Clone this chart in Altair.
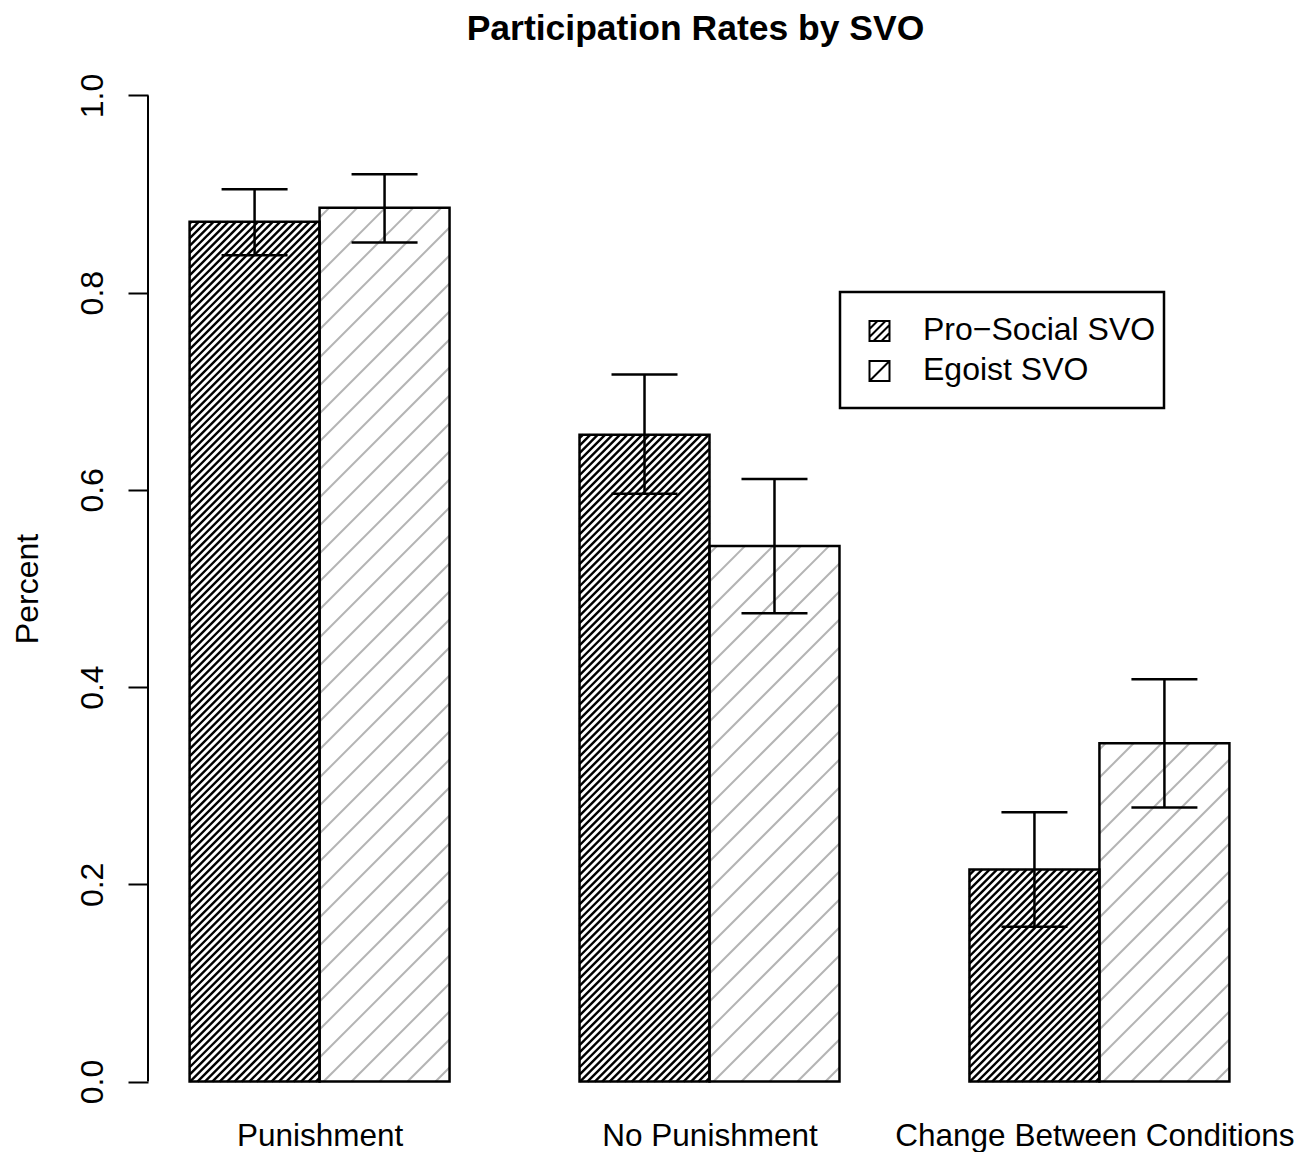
import json
import altair as alt
import pandas as pd

# ---------------- data ----------------
conditions = ["Punishment", "No Punishment", "Change Between Conditions"]
series = ["Pro\u2212Social SVO", "Egoist SVO"]
pro_values = [0.872, 0.656, 0.215]
pro_lower = [0.838, 0.596, 0.157]
pro_upper = [0.905, 0.717, 0.273]
ego_values = [0.886, 0.543, 0.343]
ego_lower = [0.851, 0.475, 0.278]
ego_upper = [0.920, 0.611, 0.408]
y_ticks = [0.0, 0.2, 0.4, 0.6, 0.8, 1.0]
title_text = "Participation Rates by SVO"
y_title = "Percent"

rows = []
for ci, cond in enumerate(conditions):
    for si, (vals, lo, hi) in enumerate(
        [(pro_values, pro_lower, pro_upper), (ego_values, ego_lower, ego_upper)]
    ):
        rows.append(dict(condition=cond, series=series[si], ci=ci, si=si,
                         value=vals[ci], lo=lo[ci], hi=hi[ci]))
df = pd.DataFrame(rows)

# ---------------- layout / style ----------------
FONT = "Liberation Sans"
W, H = 1123, 1065
XDOM = [0.68, 9.32]
YDOM = [-0.04, 1.04]
SX = W / (XDOM[1] - XDOM[0])   # px per x unit
SY = H / (YDOM[1] - YDOM[0])   # px per y unit
HATCH_SP = {0: 7.4, 1: 28.0}   # horizontal spacing of hatch lines (px)
HATCH_COL = ["#000000", "#b4b4b4"]
CAP_HALF = 33 / SX

xscale = alt.Scale(domain=XDOM, nice=False, zero=False)
yscale = alt.Scale(domain=YDOM, nice=False, zero=False)

group_centers = [3 * i + 2 for i in range(len(conditions))]
label_expr = f"{json.dumps(conditions)}[round((datum.value - 2) / 3)]"
last_center = group_centers[-1]

x_axis = alt.Axis(values=group_centers, labelExpr=label_expr, domain=False,
                  ticks=False, tickSize=0, grid=False, labelFontSize=31.5,
                  labelFont=FONT, labelColor="black", labelPadding=24,
                  labelBaseline="alphabetic", labelFlush=False,
                  labelOverlap=False, labelLimit=1000, title="",
                  labelOffset={"condition": {"test": f"datum.value == {last_center}",
                                             "value": -5},
                               "value": 0})
y_axis = alt.Axis(values=y_ticks, format=".1f", domain=False, grid=False,
                  ticks=True, tickSize=20, tickWidth=2, tickColor="black",
                  labelFontSize=32, labelFont=FONT, labelColor="black",
                  labelAngle=270, labelAlign="center",
                  labelBaseline="alphabetic", labelPadding=26,
                  labelFlush=False, labelOverlap=False,
                  title=y_title, titleFont=FONT, titleFontSize=32,
                  titleFontWeight="normal", titleColor="black",
                  titleAngle=270, titleX=-111, titleY=H / 2,
                  titleAlign="center", titleBaseline="alphabetic")

base = alt.Chart(df).transform_calculate(
    L="1 + 3 * datum.ci + datum.si",
    R="datum.L + 1",
    xc="datum.L + 0.5",
)

# hatch lines (45 degree, clipped to each bar)
hatch = base.transform_calculate(
    sp=f"datum.si == 0 ? {HATCH_SP[0]} : {HATCH_SP[1]}",
    Wp=f"(datum.R - datum.L) * {SX}",
    Hp=f"datum.value * {SY}",
).transform_calculate(
    ks="sequence(0, ceil((datum.Hp + datum.Wp) / datum.sp) + 2)"
).transform_flatten(["ks"]).transform_calculate(
    c="-datum.Wp + datum.sp * 0.5 + datum.ks * datum.sp"
).transform_filter(
    "datum.c > -datum.Wp && datum.c < datum.Hp"
).transform_calculate(
    u1="datum.c >= 0 ? 0 : -datum.c",
    v1="datum.c >= 0 ? datum.c : 0",
    u2="datum.c + datum.Wp <= datum.Hp ? datum.Wp : datum.Hp - datum.c",
    v2="datum.c + datum.Wp <= datum.Hp ? datum.c + datum.Wp : datum.Hp",
).transform_calculate(
    hx1=f"datum.L + datum.u1 / {SX}",
    hy1=f"datum.v1 / {SY}",
    hx2=f"datum.L + datum.u2 / {SX}",
    hy2=f"datum.v2 / {SY}",
    sw="datum.si == 0 ? 2.4 : 2",
).mark_rule().encode(
    x=alt.X("hx1:Q", scale=xscale, axis=x_axis),
    x2="hx2:Q",
    y=alt.Y("hy1:Q", scale=yscale, axis=y_axis),
    y2="hy2:Q",
    stroke=alt.Stroke("series:N", scale=alt.Scale(domain=series, range=HATCH_COL),
                      legend=None),
    strokeWidth=alt.StrokeWidth("sw:Q", scale=None, legend=None),
)

outline = base.mark_rect(fillOpacity=0, stroke="black", strokeWidth=2.5).encode(
    x=alt.X("L:Q", scale=xscale),
    x2="R:Q",
    y=alt.Y("value:Q", scale=yscale),
    y2=alt.datum(0),
)

err = base.mark_rule(color="black", strokeWidth=2.5).encode(
    x=alt.X("xc:Q", scale=xscale),
    y=alt.Y("lo:Q", scale=yscale),
    y2="hi:Q",
)

caps = base.transform_fold(["lo", "hi"], as_=["end", "ev"]).transform_calculate(
    cl=f"datum.xc - {CAP_HALF}",
    cr=f"datum.xc + {CAP_HALF}",
).mark_rule(color="black", strokeWidth=2.5).encode(
    x=alt.X("cl:Q", scale=xscale),
    x2="cr:Q",
    y=alt.Y("ev:Q", scale=yscale),
)

axis_line = alt.Chart(pd.DataFrame({"lo": [min(y_ticks)], "hi": [max(y_ticks)]})).mark_rule(
    color="black", strokeWidth=2
).encode(
    x=alt.value(0),
    y=alt.Y("lo:Q", scale=yscale),
    y2="hi:Q",
)

# ---------------- title & legend ----------------
one = pd.DataFrame({"k": [0]})
title_mark = alt.Chart(one).mark_text(
    align="center", baseline="alphabetic", fontSize=35.5, fontWeight="bold",
    font=FONT, color="black"
).encode(x=alt.value(547.5), y=alt.value(-16), text=alt.value(title_text))

legend_box = alt.Chart(one).mark_rect(fill="white", stroke="black", strokeWidth=2.5).encode(
    x=alt.value(692), x2=alt.value(1016), y=alt.value(236), y2=alt.value(352)
)

SQ = "M-1,-1L1,-1L1,1L-1,1Z"
pro_path = SQ + " M-1,-0.2L-0.2,-1 M-1,0.6L0.6,-1 M-0.6,1L1,-0.6 M0.2,1L1,0.2"
ego_path = SQ + " M-1,1L1,-1"
paths = [pro_path, ego_path]

legend_layers = [legend_box]
for i, s in enumerate(series):
    legend_layers.append(
        alt.Chart(one).mark_point(shape=paths[i], size=400, filled=False,
                                  stroke="black", strokeWidth=2, opacity=1).encode(
            x=alt.value(731.5), y=alt.value(275 + 40 * i)
        )
    )
    legend_layers.append(
        alt.Chart(one).mark_text(align="left", baseline="alphabetic", fontSize=32,
                                 font=FONT, color="black").encode(
            x=alt.value(775), y=alt.value(284 + 40 * i), text=alt.value(s)
        )
    )

chart = alt.layer(hatch, outline, err, caps, axis_line, title_mark,
                  *legend_layers).properties(
    width=W,
    height=H,
    autosize=alt.AutoSizeParams(type="none"),
    padding={"left": 140, "top": 48, "right": 26, "bottom": 31},
    background="white",
).configure_view(stroke="transparent")

chart.save("out.html", embed_options={"renderer": "svg", "actions": False})
